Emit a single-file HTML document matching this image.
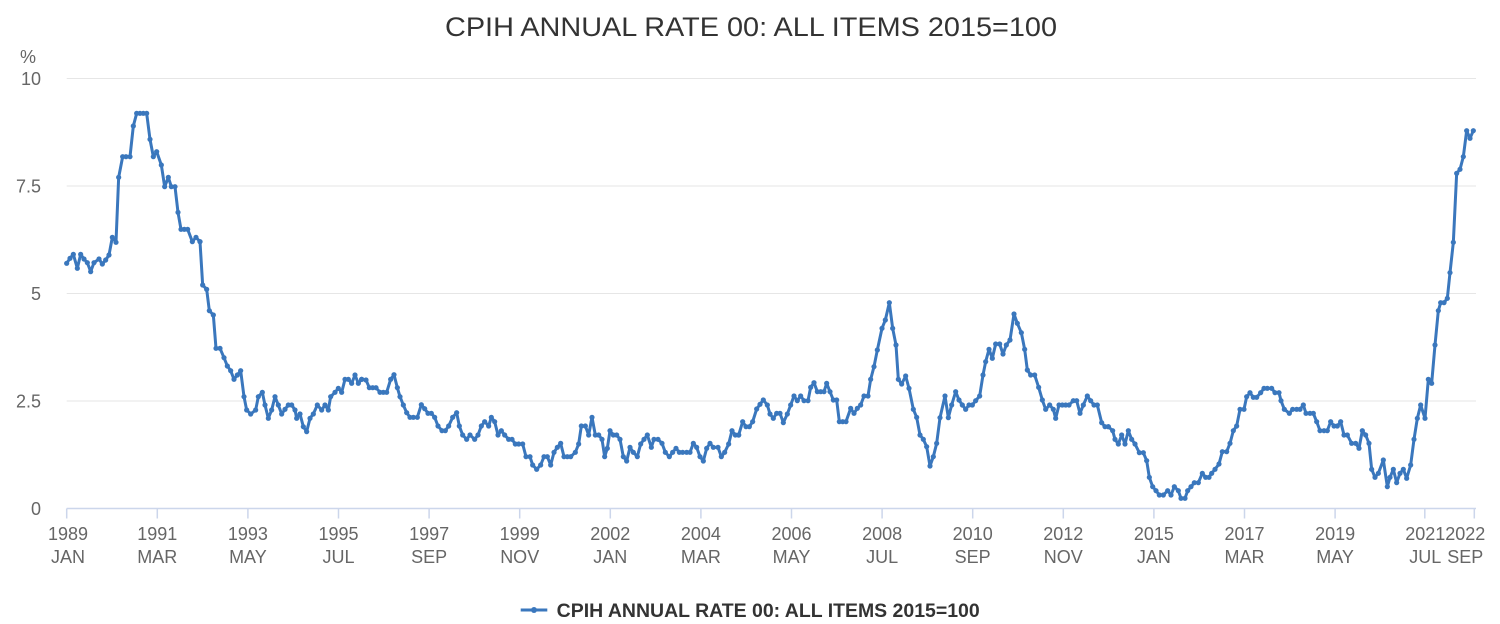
<!DOCTYPE html>
<html>
<head>
<meta charset="utf-8">
<style>
  html, body { margin: 0; padding: 0; background: #ffffff; }
  svg { display: block; }
  text { font-family: "Liberation Sans", Arial, sans-serif; }
</style>
</head>
<body>
<svg width="1500" height="624" viewBox="0 0 1500 624" xmlns="http://www.w3.org/2000/svg">
  <defs>
    <marker id="dot" markerUnits="userSpaceOnUse" markerWidth="24" markerHeight="24" refX="12" refY="12">
      <circle cx="12" cy="12" r="7.8" fill="#3a77bd"/>
    </marker>
  </defs>
  <rect x="0" y="0" width="1500" height="624" fill="#ffffff"/>

  <!-- Title -->
  <text x="751" y="36" text-anchor="middle" font-size="26.5" fill="#333333" textLength="612" lengthAdjust="spacingAndGlyphs">CPIH ANNUAL RATE 00: ALL ITEMS 2015=100</text>

  <!-- Grid -->
  <g stroke="#e6e6e6" stroke-width="1">
    <line x1="66.7" y1="78.5" x2="1476" y2="78.5"/>
    <line x1="66.7" y1="186" x2="1476" y2="186"/>
    <line x1="66.7" y1="293.5" x2="1476" y2="293.5"/>
    <line x1="66.7" y1="401" x2="1476" y2="401"/>
  </g>

  <!-- Y labels -->
  <g font-size="18" fill="#666666" text-anchor="end">
    <text x="41" y="85">10</text>
    <text x="41" y="192.5">7.5</text>
    <text x="41" y="300">5</text>
    <text x="41" y="407.5">2.5</text>
    <text x="41" y="515">0</text>
  </g>
  <text x="20" y="63" font-size="18" fill="#666666">%</text>

  <!-- X axis -->
  <line x1="66.7" y1="508.5" x2="1476" y2="508.5" stroke="#ccd6eb" stroke-width="1.5"/>
  <g stroke="#ccd6eb" stroke-width="1.5">
    <line x1="66.7" y1="508.5" x2="66.7" y2="518.5"/>
    <line x1="157.3" y1="508.5" x2="157.3" y2="518.5"/>
    <line x1="247.9" y1="508.5" x2="247.9" y2="518.5"/>
    <line x1="338.5" y1="508.5" x2="338.5" y2="518.5"/>
    <line x1="429.1" y1="508.5" x2="429.1" y2="518.5"/>
    <line x1="519.7" y1="508.5" x2="519.7" y2="518.5"/>
    <line x1="610.3" y1="508.5" x2="610.3" y2="518.5"/>
    <line x1="700.9" y1="508.5" x2="700.9" y2="518.5"/>
    <line x1="791.5" y1="508.5" x2="791.5" y2="518.5"/>
    <line x1="882.1" y1="508.5" x2="882.1" y2="518.5"/>
    <line x1="972.7" y1="508.5" x2="972.7" y2="518.5"/>
    <line x1="1063.3" y1="508.5" x2="1063.3" y2="518.5"/>
    <line x1="1153.9" y1="508.5" x2="1153.9" y2="518.5"/>
    <line x1="1244.5" y1="508.5" x2="1244.5" y2="518.5"/>
    <line x1="1335.1" y1="508.5" x2="1335.1" y2="518.5"/>
    <line x1="1424.8" y1="508.5" x2="1424.8" y2="518.5"/>
    <line x1="1474.3" y1="508.5" x2="1474.3" y2="518.5"/>
  </g>
  <g font-size="18" fill="#666666" text-anchor="middle">
    <text x="68" y="540">1989</text><text x="68" y="563">JAN</text>
    <text x="157.3" y="540">1991</text><text x="157.3" y="563">MAR</text>
    <text x="247.9" y="540">1993</text><text x="247.9" y="563">MAY</text>
    <text x="338.5" y="540">1995</text><text x="338.5" y="563">JUL</text>
    <text x="429.1" y="540">1997</text><text x="429.1" y="563">SEP</text>
    <text x="519.7" y="540">1999</text><text x="519.7" y="563">NOV</text>
    <text x="610.3" y="540">2002</text><text x="610.3" y="563">JAN</text>
    <text x="700.9" y="540">2004</text><text x="700.9" y="563">MAR</text>
    <text x="791.5" y="540">2006</text><text x="791.5" y="563">MAY</text>
    <text x="882.1" y="540">2008</text><text x="882.1" y="563">JUL</text>
    <text x="972.7" y="540">2010</text><text x="972.7" y="563">SEP</text>
    <text x="1063.3" y="540">2012</text><text x="1063.3" y="563">NOV</text>
    <text x="1153.9" y="540">2015</text><text x="1153.9" y="563">JAN</text>
    <text x="1244.5" y="540">2017</text><text x="1244.5" y="563">MAR</text>
    <text x="1335.1" y="540">2019</text><text x="1335.1" y="563">MAY</text>
    <text x="1425.3" y="540">2021</text><text x="1425.3" y="563">JUL</text>
    <text x="1465.3" y="540">2022</text><text x="1465.3" y="563">SEP</text>
  </g>

  <!-- Series (segments in 3x zoom coordinates) -->
  <g fill="none" stroke="#3a77bd" stroke-width="9" stroke-linejoin="round" stroke-linecap="round">
    <g transform="translate(0,40) scale(0.333333)">
      <polyline marker-start="url(#dot)" marker-mid="url(#dot)" marker-end="url(#dot)" points="200,670 210,655 220,643 232,685 242,643 252,657 262,668 272,695 282,668 297,657 307,672 317,660 327,645 337,592 348,607 356,412 368,350 378,350 390,350 400,258 410,220 420,220 430,220 440,220 450,298 460,350 470,335 484,375 494,440 505,412 514,440 525,440 534,517 543,568 553,568 563,568 577,605 588,592 600,605"/>
    </g>
    <g transform="translate(0,230) scale(0.333333)">
      <polyline marker-start="url(#dot)" marker-mid="url(#dot)" marker-end="url(#dot)" points="600,35 608,165 620,178 628,242 640,255 648,355 660,355 672,383 682,408 692,422 702,448 712,435 722,422 732,500 740,540 752,552 767,540 775,500 787,487 795,525 805,565 815,540 825,500 835,525 845,552 855,538 865,525 875,525 885,540 890,565 900,552 910,590 920,605 930,565 940,552 952,525 965,540 975,525 985,540 992,500 1005,487 1015,475 1025,487 1035,448 1045,448 1055,460 1065,435 1075,460 1085,448"/>
    </g>
    <g transform="translate(360,340) scale(0.333333)">
      <polyline marker-start="url(#dot)" marker-mid="url(#dot)" marker-end="url(#dot)" points="5,118 18,120 28,143 38,143 48,143 60,157 70,157 80,157 92,118 102,104 112,143 120,170 130,195 140,218 150,232 160,232 172,232 184,194 194,206 204,220 214,220 224,232 234,258 246,272 256,272 266,258 278,232 290,218 298,258 308,285 320,298 330,285 344,298 354,285 364,258 374,245 386,258 394,232 404,245 414,285 424,272 434,285 446,298 456,298 466,312 476,312 488,312 498,350 510,350 518,375 530,388 542,375 552,350 562,350 572,375 582,337 592,322 602,310 612,350 622,350 632,350 646,337 656,312 664,258 676,258 686,285 696,232 706,285 716,285 726,298 734,350 742,325 750,272 760,285 770,285 780,298 790,350 800,363 810,322 820,337 832,350 842,312 852,298 862,285 874,322 882,298 894,298 906,310 916,337 928,350 938,337 948,325 958,337 968,337 980,337 990,337 1000,310 1010,322 1020,350 1030,363 1040,325 1050,310 1060,322 1074,322 1084,350 1094,337 1106,312 1116,272 1126,285 1136,285"/>
    </g>
    <g transform="translate(730,290) scale(0.333333)">
      <polyline marker-start="url(#dot)" marker-mid="url(#dot)" marker-end="url(#dot)" points="26,435 38,395 48,410 58,410 68,395 80,357 90,343 100,330 112,345 120,372 130,385 140,370 150,370 160,398 172,372 182,345 192,318 202,332 212,318 222,332 234,332 242,292 252,278 262,305 272,305 282,305 290,280 300,305 310,330 320,330 328,395 338,395 348,395 362,355 372,370 382,355 392,345 402,318 414,318 422,268 432,230 442,180 456,115 466,90 478,38 488,115 498,165 505,268 515,282 527,258 537,295 550,358 560,382 570,435 580,448 590,470 600,528 610,500 620,460 630,383 645,318 655,383 665,345 677,305 687,330 697,345 707,358 717,345 727,345 737,332 749,318 759,255 767,215 777,178 787,205 797,162 809,162 819,192 829,165 840,150 852,72 862,100 874,128 884,178 892,240 902,255 914,255 926,292 937,330 947,358 959,345 970,358 977,385 987,345 997,345 1007,345 1017,345 1030,332 1040,332 1050,370 1060,345 1072,318 1082,332 1092,345 1102,345 1115,398 1125,410 1135,410"/>
    </g>
    <g transform="translate(1100,110) scale(0.333333)">
      <polyline marker-start="url(#dot)" marker-mid="url(#dot)" marker-end="url(#dot)" points="25,950 38,962 45,988 55,1002 65,975 75,1002 85,962 95,988 105,1002 118,1028 130,1028 140,1052 148,1102 158,1130 168,1142 178,1155 190,1155 203,1142 213,1155 223,1130 235,1142 243,1165 255,1165 263,1142 273,1130 283,1118 295,1118 307,1090 317,1102 327,1102 335,1090 345,1078 357,1062 367,1025 380,1025 390,1000 400,962 410,948 420,898 432,898 440,860 450,848 460,862 470,862 482,848 492,835 502,835 515,835 525,848 537,848 543,872 553,898 568,910 578,898 590,898 600,898 610,885 618,910 630,910 640,910 650,935 660,962 672,962 682,962 692,935 702,948 712,948 722,935 732,975 742,975 755,1000 767,1000 777,1015 787,962 797,975 807,1000 815,1078 825,1102 835,1090 850,1050 862,1130 870,1102 880,1078 890,1118 900,1090 910,1078 920,1105 932,1065 942,988 952,925 962,885 975,925 985,808 995,820 1005,705 1015,602 1022,578 1032,578 1042,565 1050,488 1060,397 1070,190 1080,178 1090,140 1100,62 1110,85 1120,62"/>
    </g>
  </g>

  <!-- Legend -->
  <line x1="520.7" y1="610" x2="547.3" y2="610" stroke="#3a77bd" stroke-width="3"/>
  <circle cx="534" cy="610" r="3" fill="#3a77bd"/>
  <text x="556.7" y="617" font-size="19" font-weight="bold" fill="#333333" textLength="423" lengthAdjust="spacingAndGlyphs">CPIH ANNUAL RATE 00: ALL ITEMS 2015=100</text>
</svg>
</body>
</html>
